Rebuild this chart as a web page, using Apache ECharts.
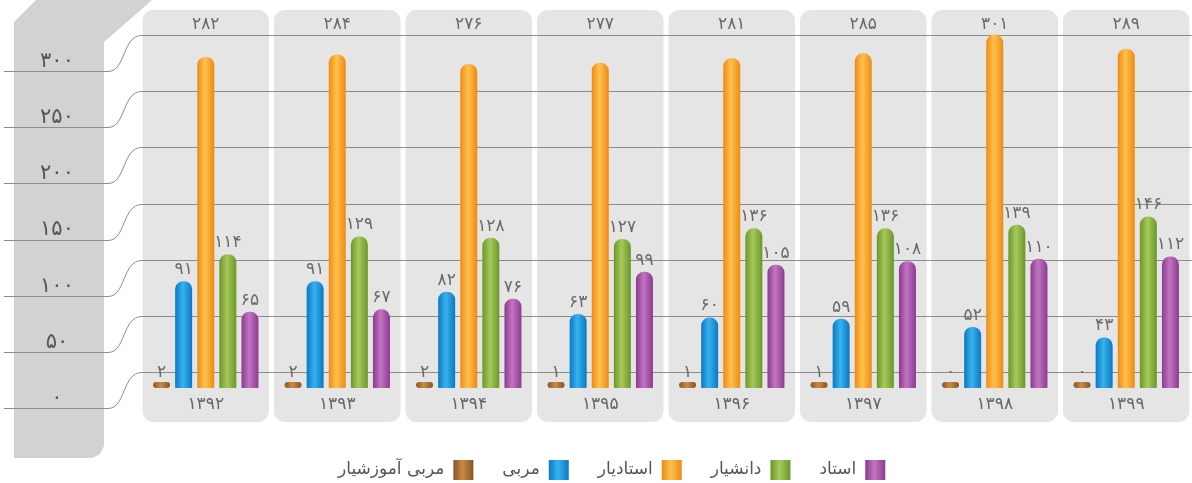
<!DOCTYPE html>
<html><head><meta charset="utf-8">
<script src="https://cdn.jsdelivr.net/npm/echarts@6/dist/echarts.min.js"></script>
<style>html,body{margin:0;padding:0;background:#fff}#c{width:1192px;height:483px}</style>
</head><body><div id="c"></div>
<script>
// ---- data ----
const years = [1392, 1393, 1394, 1395, 1396, 1397, 1398, 1399];
const seriesNames = ['مربی آموزشیار', 'مربی', 'استادیار', 'دانشیار', 'استاد'];
const trainerAssistant = [2, 2, 2, 1, 1, 1, 0, 0];       // مربی آموزشیار
const instructor = [91, 91, 82, 63, 60, 59, 52, 43];      // مربی
const assistantProf = [282, 284, 276, 277, 281, 285, 301, 289]; // استادیار
const associateProf = [114, 129, 128, 127, 136, 136, 139, 146]; // دانشیار
const professor = [65, 67, 76, 99, 105, 108, 110, 112];  // استاد
const yTicks = [0, 50, 100, 150, 200, 250, 300];

const FA = '۰۱۲۳۴۵۶۷۸۹';
const toFa = v => String(v).replace(/\d/g, d => FA[d]);
const FONT = '"DejaVu Sans", sans-serif';

function grad(edge, mid) {
  return new echarts.graphic.LinearGradient(0, 0, 1, 0, [
    {offset: 0, color: edge}, {offset: 0.45, color: mid}, {offset: 1, color: edge}
  ]);
}
const colors = [
  grad('#8a5322', '#c98b48'),
  grad('#0b78c2', '#37b2ee'),
  grad('#ee8a12', '#ffc14f'),
  grad('#6c962a', '#a6c95a'),
  grad('#8c3a8d', '#c274c2')
];
const values = [trainerAssistant, instructor, assistantProf, associateProf, professor];

const chart = echarts.init(document.getElementById('c'), null, {renderer: 'canvas'});

const barSeries = values.map((arr, i) => ({
  name: seriesNames[i],
  type: 'bar',
  xAxisIndex: 1, yAxisIndex: 1,
  data: arr,
  barWidth: 17,
  barGap: '30%',
  barMinHeight: i === 0 ? 6 : 0,
  z: 3,
  itemStyle: {color: colors[i], borderRadius: i === 0 ? 8 : [8, 8, 1, 1]},
  label: {
    show: i !== 2,
    position: 'top',
    distance: i === 0 ? 1 : 3,
    color: '#6a6a6a',
    fontFamily: FONT,
    fontSize: 17,
    formatter: p => toFa(p.value)
  }
}));

chart.setOption({
  backgroundColor: '#ffffff',
  animation: false,
  textStyle: {fontFamily: FONT},
  graphic: [{
    type: 'polygon',
    z: -10,
    shape: {points: [[14, 22], [36, 0], [152, 0], [104, 42], [104, 446], [100, 454], [92, 458], [14, 458]]},
    style: {fill: '#d2d2d2'}
  }],
  grid: [
    {left: 140, right: 0, top: 35, bottom: 111},
    {left: 140, right: 0, top: 24, bottom: 95}
  ],
  xAxis: [
    {type: 'value', gridIndex: 0, min: 0, max: 1, show: false},
    {type: 'category', gridIndex: 1, data: years, z: 5,
      axisLine: {show: false}, axisTick: {show: false},
      axisLabel: {color: '#666', fontSize: 17, margin: 8, fontFamily: FONT, formatter: v => toFa(v)}}
  ],
  yAxis: [
    {type: 'value', gridIndex: 0, min: 0, max: 300, interval: 50,
      axisLine: {show: false}, axisTick: {show: false}, splitLine: {show: false},
      axisLabel: {color: '#555', fontSize: 21, fontFamily: FONT, align: 'center', margin: 83,
        verticalAlign: 'top', padding: [16, 0, 0, 0], formatter: v => toFa(v)}},
    {type: 'value', gridIndex: 1, min: 0, max: 310, show: false}
  ],
  legend: {
    data: seriesNames,
    left: 333, top: 455,
    align: 'right',
    itemWidth: 20, itemHeight: 20, itemGap: 29,
    icon: 'rect',
    textStyle: {color: '#555', fontSize: 17, fontFamily: FONT, padding: [0, 4, 0, 0]}
  },
  series: [
    {
      type: 'custom',
      xAxisIndex: 1, yAxisIndex: 1,
      z: 0,
      silent: true,
      data: assistantProf.map((v, i) => [i, v]),
      renderItem: (params, api) => {
        const x = api.coord([api.value(0), 0])[0];
        const w = api.size([1, 0])[0];
        return {
          type: 'group',
          children: [
            {type: 'rect', shape: {x: x - w / 2 + 2.5, y: 10, width: w - 5, height: 412, r: 11},
              style: {fill: '#e5e5e6'}},
            {type: 'text', style: {x: x, y: 25, text: toFa(api.value(1)), textAlign: 'center',
              textVerticalAlign: 'middle', fill: '#6a6a6a', font: '17px "DejaVu Sans", sans-serif'}}
          ]
        };
      }
    },
    {
      type: 'custom',
      xAxisIndex: 0, yAxisIndex: 0,
      z: 1,
      silent: true,
      clip: false,
      data: yTicks.map(v => [0, v]),
      renderItem: (params, api) => {
        const y = Math.round(api.coord([0, api.value(1)])[1]) + 0.5;
        const yl = y + 36;
        const st = {stroke: '#8c8c8c', lineWidth: 1, fill: null};
        return {
          type: 'group',
          children: [
            {type: 'line', shape: {x1: 4, y1: yl, x2: 108, y2: yl}, style: st},
            {type: 'bezierCurve', shape: {x1: 108, y1: yl, cpx1: 126, cpy1: yl, cpx2: 122, cpy2: y, x2: 142, y2: y}, style: st},
            {type: 'line', shape: {x1: 142, y1: y, x2: 1192, y2: y}, style: st}
          ]
        };
      }
    }
  ].concat(barSeries)
});
</script></body></html>
